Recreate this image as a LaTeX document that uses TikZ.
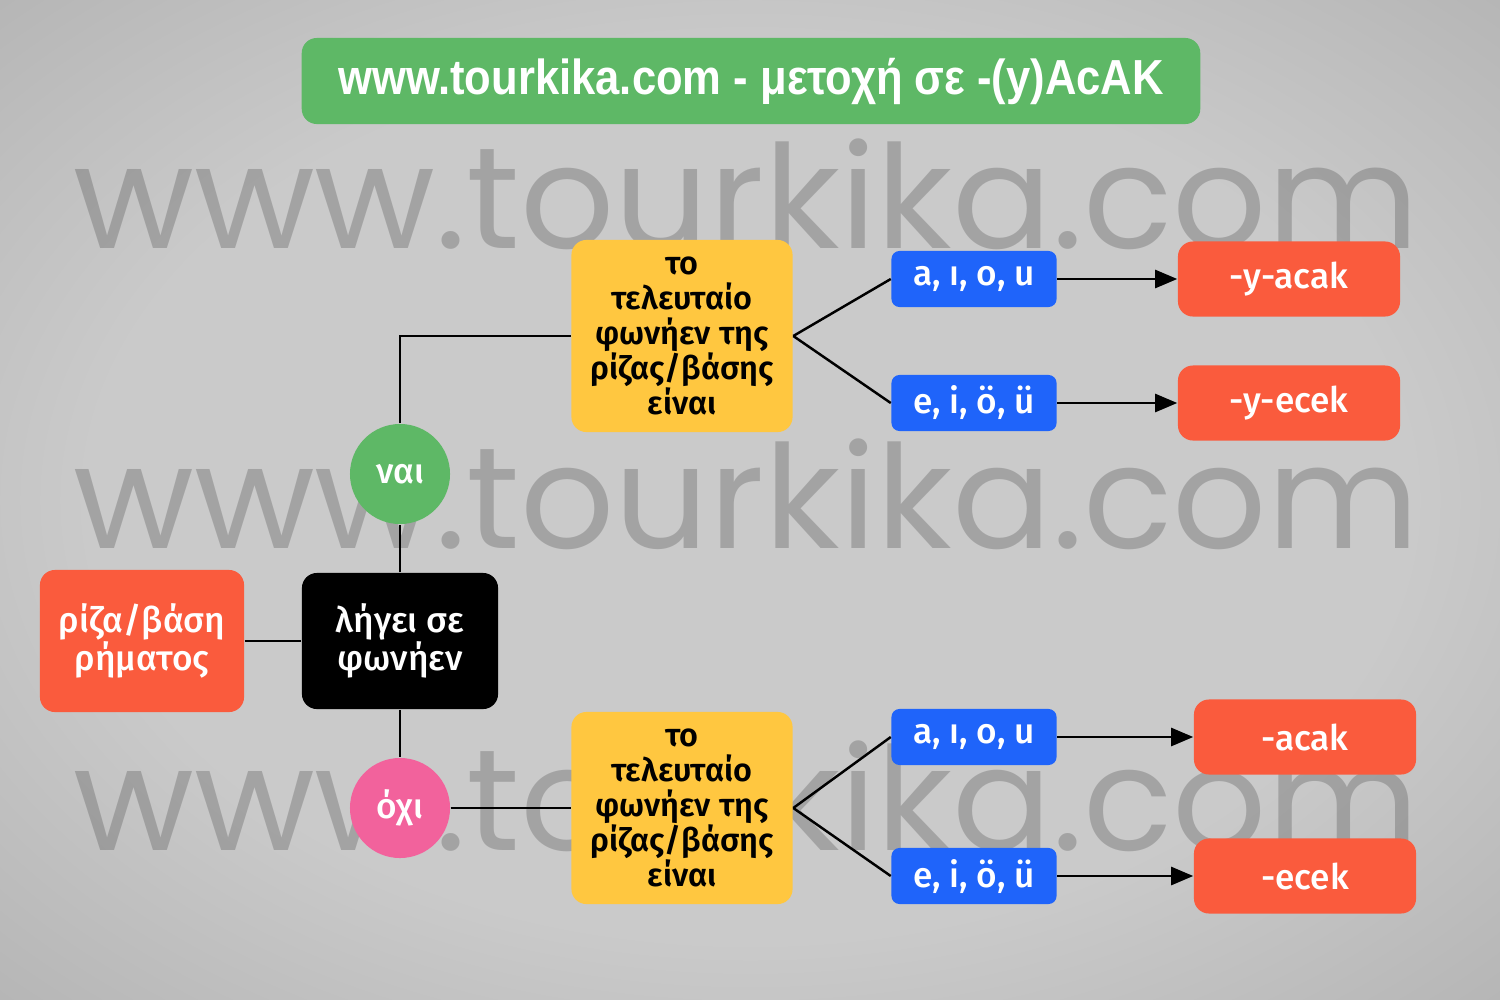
\documentclass[tikz,border=0pt]{standalone}
\usepackage{fontspec}
\setmainfont{Fira Sans}[UprightFont={* Medium}, BoldFont={* SemiBold}]
\newfontfamily\titlefont{Liberation Sans}
\newfontfamily\markfont{Poppins}
\usetikzlibrary{arrows.meta}
\definecolor{paperin}{RGB}{202,202,202}
\definecolor{papermid}{RGB}{160,160,160}
\definecolor{paperout}{RGB}{88,88,88}
\definecolor{leafgreen}{RGB}{94,184,102}
\definecolor{rootred}{RGB}{250,91,61}
\definecolor{vowelyellow}{RGB}{255,199,64}
\definecolor{vowelblue}{RGB}{31,100,250}
\definecolor{nopink}{RGB}{242,98,156}
\pgfdeclareradialshading{paper}{\pgfpoint{0bp}{0bp}}{color(0bp)=(paperin); color(22bp)=(paperin); color(50bp)=(papermid); color(72bp)=(paperout)}

\tikzset{
	box/.style={rounded corners=0.15cm, inner sep=0pt, align=center, text=white, font=\fontsize{10}{10.8}\selectfont},
	answer/.style={circle, minimum size=1cm, inner sep=0pt, text=white, font=\fontsize{10}{10.8}\selectfont},
	wmark/.style={anchor=base, inner sep=0pt, text=black, text opacity=0.19},
	link/.style={line width=0.7pt},
	arr/.style={line width=0.7pt, -{Triangle[length=2.2mm,width=1.8mm]}}
}

\begin{document}
\begin{tikzpicture}[x=0.01cm,y=-0.01cm]
	\useasboundingbox (0,0) rectangle (1500,1000);
	\shade[shading=paper] (0,0) rectangle (1500,1000);
	\foreach \y/\n in {248/1,548/2,850/3}{
		\node[wmark] (wm\n) at (746,\y) {\resizebox{13.45cm}{\height}{\markfont\fontsize{41}{41}\selectfont www.tourkika.com}};
	}

	\node[box, fill=leafgreen, minimum width=8.98cm, minimum height=0.86cm] (title) at (751,81)
		{\resizebox{8.25cm}{\height}{\titlefont\bfseries\fontsize{14}{14}\selectfont www.tourkika.com - μετοχή σε -(y)AcAK}};

	\node[box, fill=rootred, minimum width=2.04cm, minimum height=1.42cm] (root) at (142,641) {ρίζα/βάση\\ρήματος};
	\node[box, fill=black, minimum width=1.96cm, minimum height=1.36cm] (ends) at (400,641) {λήγει σε\\φωνήεν};
	\node[answer, fill=leafgreen] (yes) at (400,474) {ναι};
	\node[answer, fill=nopink] (no) at (400,808) {όχι};

	\node[box, fill=vowelyellow, text=black, minimum width=2.21cm, minimum height=1.92cm, font=\bfseries\fontsize{9.2}{9.9}\selectfont] (last1) at (682,336)
		{το\\τελευταίο\\φωνήεν της\\ρίζας/βάσης\\είναι};
	\node[box, fill=vowelyellow, text=black, minimum width=2.21cm, minimum height=1.92cm, font=\bfseries\fontsize{9.2}{9.9}\selectfont] (last2) at (682,808)
		{το\\τελευταίο\\φωνήεν της\\ρίζας/βάσης\\είναι};

	\node[box, rounded corners=0.08cm, fill=vowelblue, minimum width=1.65cm, minimum height=0.56cm] (back1) at (974,279) {a, ı, o, u};
	\node[box, rounded corners=0.08cm, fill=vowelblue, minimum width=1.65cm, minimum height=0.56cm] (front1) at (974,403) {e, i, ö, ü};
	\node[box, rounded corners=0.08cm, fill=vowelblue, minimum width=1.65cm, minimum height=0.56cm] (back2) at (974,737) {a, ı, o, u};
	\node[box, rounded corners=0.08cm, fill=vowelblue, minimum width=1.65cm, minimum height=0.56cm] (front2) at (974,876) {e, i, ö, ü};

	\node[box, fill=rootred, minimum width=2.22cm, minimum height=0.75cm] (yacak) at (1289,279) {-y-acak};
	\node[box, fill=rootred, minimum width=2.22cm, minimum height=0.75cm] (yecek) at (1289,403) {-y-ecek};
	\node[box, fill=rootred, minimum width=2.22cm, minimum height=0.75cm] (acak) at (1305,737) {-acak};
	\node[box, fill=rootred, minimum width=2.22cm, minimum height=0.75cm] (ecek) at (1305,876) {-ecek};

	\draw[link] (root) -- (ends);
	\draw[link] (ends) -- (yes);
	\draw[link] (yes) |- (last1);
	\draw[link] (ends) -- (no);
	\draw[link] (no) -- (last2);
	\draw[link] (last1.east) -- (back1.west);
	\draw[link] (last1.east) -- (front1.west);
	\draw[link] (last2.east) -- (back2.west);
	\draw[link] (last2.east) -- (front2.west);
	\draw[arr] (back1) -- (yacak);
	\draw[arr] (front1) -- (yecek);
	\draw[arr] (back2) -- (acak);
	\draw[arr] (front2) -- (ecek);
\end{tikzpicture}
\end{document}
